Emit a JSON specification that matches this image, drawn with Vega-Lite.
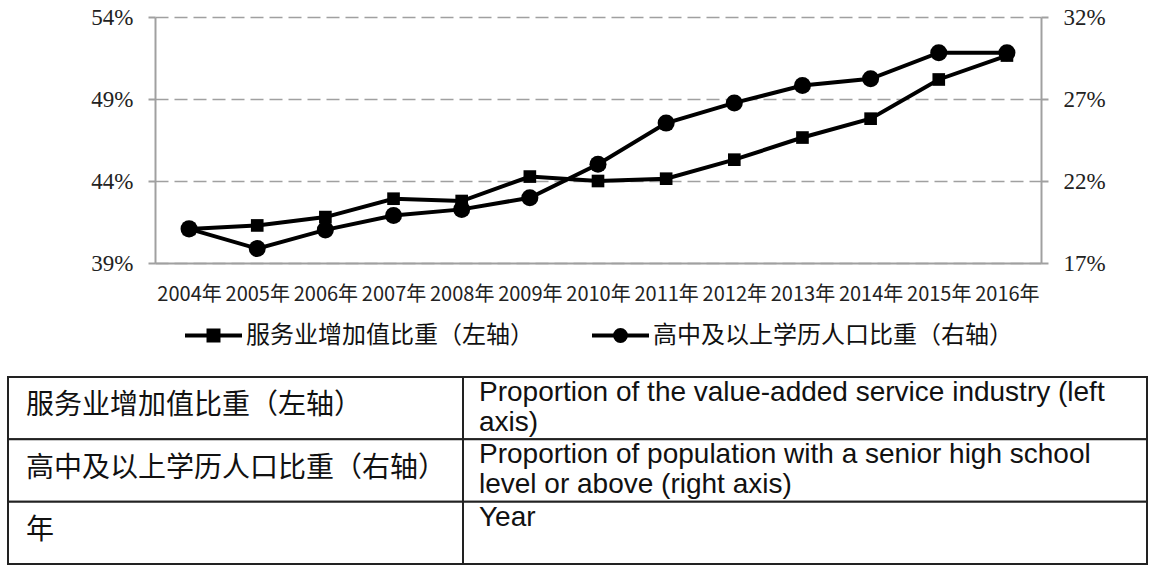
{
  "$schema": "https://vega.github.io/schema/vega-lite/v6.json",
  "padding": {"left": 7, "top": 0, "right": 0, "bottom": 0},
  "background": "white",
  "config": {
    "view": {"stroke": null},
    "legend": {"layout": {"bottom": {"anchor": "middle", "direction": "horizontal", "margin": 56}}}
  },
  "datasets": {
    "series": [
      {"year": "2004年", "service": 0.4108, "edu": 0.1908},
      {"year": "2005年", "service": 0.4129, "edu": 0.1788},
      {"year": "2006年", "service": 0.4180, "edu": 0.1902},
      {"year": "2007年", "service": 0.4292, "edu": 0.1990},
      {"year": "2008年", "service": 0.4278, "edu": 0.2027},
      {"year": "2009年", "service": 0.4427, "edu": 0.2098},
      {"year": "2010年", "service": 0.4400, "edu": 0.2302},
      {"year": "2011年", "service": 0.4414, "edu": 0.2553},
      {"year": "2012年", "service": 0.4530, "edu": 0.2676},
      {"year": "2013年", "service": 0.4665, "edu": 0.2782},
      {"year": "2014年", "service": 0.4780, "edu": 0.2823},
      {"year": "2015年", "service": 0.5019, "edu": 0.2982},
      {"year": "2016年", "service": 0.5165, "edu": 0.2982}
    ],
    "table": [
      {"row": 1, "zh": "服务业增加值比重（左轴）", "en": "Proportion of the value-added service industry (left\naxis)"},
      {"row": 2, "zh": "高中及以上学历人口比重（右轴）", "en": "Proportion of population with a senior high school\nlevel or above (right axis)"},
      {"row": 3, "zh": "年", "en": "Year"}
    ]
  },
  "spacing": 27,
  "vconcat": [
    {
      "spacing": 0,
      "hconcat": [
        {
          "width": 1,
          "height": 1,
          "data": {"values": []},
          "mark": "rect"
        },
        {
          "width": 886,
          "height": 246,
          "data": {"name": "series"},
          "encoding": {
            "x": {
              "field": "year", "type": "nominal", "sort": null,
              "scale": {"paddingInner": 0, "paddingOuter": 0},
              "axis": {
                "title": null, "ticks": false, "labelAngle": 0, "labelOverlap": false,
                "domainColor": "#a0a0a0", "domainWidth": 2,
                "labelFont": "Noto Sans CJK SC", "labelFontSize": 20, "labelColor": "#222", "labelPadding": 21
              }
            }
          },
          "layer": [
            {
              "encoding": {
                "y": {
                  "field": "service", "type": "quantitative",
                  "scale": {"domain": [0.39, 0.54], "nice": false, "zero": false},
                  "axis": {
                    "orient": "left", "values": [0.39, 0.44, 0.49, 0.54], "format": ".0%",
                    "grid": true, "gridDash": [13, 6], "gridColor": "#a0a0a0", "gridWidth": 1.6,
                    "domainColor": "#a0a0a0", "domainWidth": 2,
                    "tickColor": "#a0a0a0", "tickWidth": 2, "tickSize": 7,
                    "labelFont": "Liberation Serif", "labelFontSize": 23, "labelColor": "#222", "labelPadding": 15,
                    "title": ".", "titleOpacity": 0, "titleX": -146, "titleY": -17, "titleAngle": 0,
                    "titleAlign": "left", "titleBaseline": "top", "titleFontSize": 10
                  }
                }
              },
              "layer": [
                {"mark": {"type": "line", "color": "black", "strokeWidth": 4}, "encoding": {}},
                {
                  "mark": {"type": "square", "filled": true, "size": 160, "opacity": 1},
                  "encoding": {
                    "color": {
                      "datum": "服务业增加值比重（左轴）", "type": "nominal",
                      "scale": {"range": ["black"]},
                      "legend": {
                        "title": null, "orient": "bottom", "direction": "horizontal", "offset": 1,
                        "labelFont": "Noto Sans CJK SC", "labelFontSize": 24, "labelColor": "#111",
                        "labelLimit": 600, "labelOffset": 2,
                        "symbolType": "M-1,0H1M-0.175,-0.175H0.175V0.175H-0.175Z",
                        "symbolSize": 3249, "symbolStrokeWidth": 4,
                        "symbolFillColor": "black", "symbolStrokeColor": "black", "symbolOpacity": 1
                      }
                    }
                  }
                }
              ]
            },
            {
              "encoding": {
                "y": {
                  "field": "edu", "type": "quantitative",
                  "scale": {"domain": [0.17, 0.32], "nice": false, "zero": false},
                  "axis": {
                    "orient": "right", "values": [0.17, 0.22, 0.27, 0.32], "format": ".0%",
                    "grid": false, "title": null,
                    "domainColor": "#a0a0a0", "domainWidth": 2,
                    "tickColor": "#a0a0a0", "tickWidth": 2, "tickSize": 7,
                    "labelFont": "Liberation Serif", "labelFontSize": 23, "labelColor": "#222", "labelPadding": 15
                  }
                }
              },
              "layer": [
                {"mark": {"type": "line", "color": "black", "strokeWidth": 4}, "encoding": {}},
                {
                  "mark": {"type": "circle", "filled": true, "size": 290, "opacity": 1},
                  "encoding": {
                    "color": {
                      "datum": "高中及以上学历人口比重（右轴）", "type": "nominal",
                      "scale": {"range": ["black"]},
                      "legend": {
                        "title": null, "orient": "bottom", "direction": "horizontal", "offset": 1,
                        "labelFont": "Noto Sans CJK SC", "labelFontSize": 24, "labelColor": "#111",
                        "labelLimit": 600, "labelOffset": 2,
                        "symbolType": "M-1,0H1M0.19,0A0.19,0.19 0 1 1 -0.19,0A0.19,0.19 0 1 1 0.19,0Z",
                        "symbolSize": 3249, "symbolStrokeWidth": 4,
                        "symbolFillColor": "black", "symbolStrokeColor": "black", "symbolOpacity": 1
                      }
                    }
                  }
                }
              ]
            }
          ],
          "resolve": {"scale": {"y": "independent", "color": "independent"}, "legend": {"color": "independent"}}
        }
      ]
    },
    {
      "data": {"name": "table"},
      "spacing": 0,
      "bounds": "flush",
      "hconcat": [
        {
          "width": 455,
          "height": 187,
          "encoding": {
            "y": {"field": "row", "type": "ordinal", "axis": null, "scale": {"paddingInner": 0, "paddingOuter": 0}}
          },
          "layer": [
            {"mark": {"type": "rect", "fill": "white", "stroke": "#222", "strokeWidth": 2}},
            {
              "mark": {"type": "text", "align": "left", "baseline": "middle", "dx": 18, "dy": -2, "font": "Noto Sans CJK SC", "fontSize": 28, "color": "#111"},
              "encoding": {
                "x": {"datum": 0, "type": "quantitative", "scale": {"domain": [0, 1]}, "axis": null},
                "text": {"field": "zh"}
              }
            }
          ]
        },
        {
          "width": 684,
          "height": 187,
          "encoding": {
            "y": {"field": "row", "type": "ordinal", "axis": null, "scale": {"paddingInner": 0, "paddingOuter": 0}}
          },
          "layer": [
            {"mark": {"type": "rect", "fill": "white", "stroke": "#222", "strokeWidth": 2}},
            {
              "mark": {"type": "text", "align": "left", "baseline": "top", "dx": 16, "dy": 2, "font": "Liberation Sans", "fontSize": 28, "lineHeight": 30, "lineBreak": "\n", "color": "#111"},
              "encoding": {
                "x": {"datum": 0, "type": "quantitative", "scale": {"domain": [0, 1]}, "axis": null},
                "y": {"field": "row", "type": "ordinal", "bandPosition": 0, "axis": null},
                "text": {"field": "en"}
              }
            }
          ]
        }
      ]
    }
  ]
}
